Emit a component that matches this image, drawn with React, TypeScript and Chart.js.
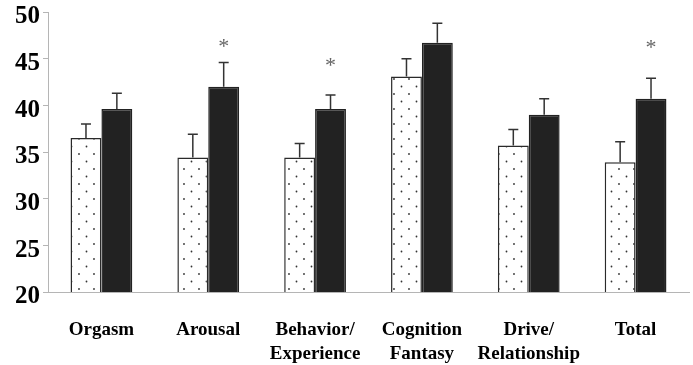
import React, { useEffect, useRef } from "react";
import { Chart, registerables } from "chart.js";

Chart.register(...registerables);

// Category labels (multi-line where the printed label wraps)
const categories: (string | string[])[] = [
  "Orgasm",
  "Arousal",
  ["Behavior/", "Experience"],
  ["Cognition", "Fantasy"],
  ["Drive/", "Relationship"],
  "Total",
];

// Group means (dotted bars and solid bars)
const dottedMeans = [36.5, 34.4, 34.4, 43.1, 35.7, 33.9];
const solidMeans = [39.6, 42.0, 39.6, 46.7, 39.0, 40.7];

// Upper error bar lengths
const dottedErrors = [1.5, 2.5, 1.5, 1.9, 1.7, 2.2];
const solidErrors = [1.7, 2.6, 1.5, 2.1, 1.7, 2.2];

// Significance markers over the solid bars (value at which the asterisk sits)
const significance: (number | null)[] = [null, 46.7, 44.6, null, null, 46.6];

// Y axis
const yMin = 20;
const yMax = 50;
const yStep = 5;

const SERIF = "'Liberation Serif', 'Times New Roman', Times, serif";

function makeDotPattern(): CanvasPattern | string {
  const tile = document.createElement("canvas");
  tile.width = 15;
  tile.height = 15;
  const c = tile.getContext("2d");
  if (!c) return "#ffffff";
  c.fillStyle = "#ffffff";
  c.fillRect(0, 0, 15, 15);
  c.fillStyle = "#333333";
  c.beginPath();
  c.arc(4, 4, 0.9, 0, Math.PI * 2);
  c.arc(11.5, 11.5, 0.9, 0, Math.PI * 2);
  c.fill();
  const p = c.createPattern(tile, "repeat");
  return p || "#ffffff";
}

const errorBarPlugin = {
  id: "errorBars",
  afterDatasetsDraw(chart: any) {
    const { ctx } = chart;
    const yScale = chart.scales.y;
    const errs = [dottedErrors, solidErrors];
    ctx.save();
    ctx.strokeStyle = "#333333";
    ctx.lineWidth = 1.5;
    chart.data.datasets.forEach((ds: any, di: number) => {
      const meta = chart.getDatasetMeta(di);
      meta.data.forEach((bar: any, i: number) => {
        const v = ds.data[i] as number;
        const top = yScale.getPixelForValue(v + errs[di][i]);
        const x = bar.x;
        ctx.beginPath();
        ctx.moveTo(x, bar.y);
        ctx.lineTo(x, top);
        ctx.moveTo(x - 5, top);
        ctx.lineTo(x + 5, top);
        ctx.stroke();
      });
    });

    // Asterisks over significant comparisons
    const solidMeta = chart.getDatasetMeta(1);
    ctx.fillStyle = "#666666";
    ctx.font = `22px ${SERIF}`;
    ctx.textAlign = "center";
    ctx.textBaseline = "alphabetic";
    const m = ctx.measureText("*");
    const asc = m.actualBoundingBoxAscent || 0;
    const desc = m.actualBoundingBoxDescent || 0;
    significance.forEach((s, i) => {
      if (s == null) return;
      const bar = solidMeta.data[i] as any;
      const cy = yScale.getPixelForValue(s);
      ctx.fillText("*", bar.x, cy + (asc - desc) / 2);
    });
    ctx.restore();
  },
};

export default function App() {
  const canvasRef = useRef<HTMLCanvasElement | null>(null);

  useEffect(() => {
    const canvas = canvasRef.current;
    if (!canvas) return;
    const chart = new Chart(canvas, {
      type: "bar",
      data: {
        labels: categories,
        datasets: [
          {
            label: "Dotted",
            data: dottedMeans,
            backgroundColor: makeDotPattern() as any,
            borderColor: "#2a2a2a",
            borderWidth: 1.5,
            borderSkipped: false,
            categoryPercentage: 0.578,
            barPercentage: 1,
          },
          {
            label: "Solid",
            data: solidMeans,
            backgroundColor: "#222222",
            borderColor: "#222222",
            borderWidth: 1.5,
            borderSkipped: false,
            categoryPercentage: 0.578,
            barPercentage: 1,
          },
        ],
      },
      options: {
        animation: false,
        responsive: false,
        maintainAspectRatio: false,
        layout: { padding: { top: 12, right: 4, left: 0, bottom: 0 } },
        plugins: {
          legend: { display: false },
          tooltip: { enabled: false },
        },
        scales: {
          x: {
            grid: { display: true, drawOnChartArea: false, drawTicks: false },
            border: { display: true, color: "#b5b5b5", width: 1 },
            ticks: {
              color: "#000000",
              padding: 26,
              maxRotation: 0,
              autoSkip: false,
              font: { family: SERIF, size: 19, weight: "bold", lineHeight: 1.26 },
            },
            afterFit: (scale: any) => {
              scale.height = 73;
            },
          },
          y: {
            min: yMin,
            max: yMax,
            grid: {
              display: true,
              drawOnChartArea: false,
              drawTicks: true,
              tickLength: 5,
              color: "#b5b5b5",
            },
            border: { display: true, color: "#b5b5b5", width: 1 },
            ticks: {
              stepSize: yStep,
              color: "#000000",
              padding: 3,
              labelOffset: 5,
              font: { family: SERIF, size: 25, weight: "bold", lineHeight: 1 },
            },
            afterFit: (scale: any) => {
              scale.width = 48;
              scale.paddingTop = 0;
              scale.paddingBottom = 0;
            },
          },
        },
      },
      plugins: [errorBarPlugin],
    });
    return () => chart.destroy();
  }, []);

  return (
    <div
      style={{
        position: "fixed",
        left: 0,
        top: 0,
        width: 693,
        height: 365,
        background: "#ffffff",
      }}
    >
      <canvas ref={canvasRef} width={693} height={365} />
    </div>
  );
}
